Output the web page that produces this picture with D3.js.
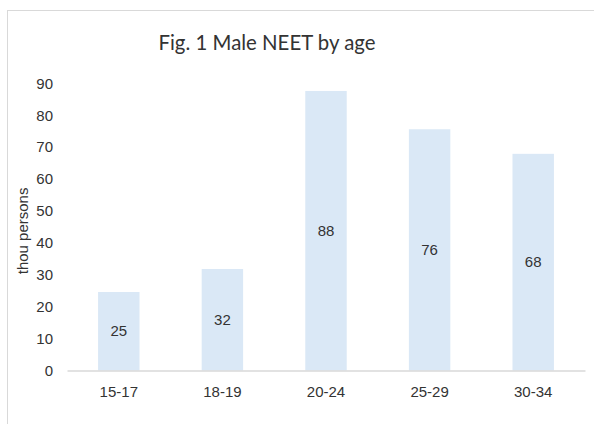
<!DOCTYPE html>
<html>
<head>
<meta charset="utf-8">
<script src="https://cdn.jsdelivr.net/npm/d3@7"></script>
<style>
  html, body { margin: 0; padding: 0; background: #fff; }
  svg { display: block; }
</style>
</head>
<body>
<svg id="chart" width="594" height="424"></svg>
<script>
const categories = ["15-17", "18-19", "20-24", "25-29", "30-34"];
const values = [24.6, 31.8, 87.6, 75.6, 67.9];
const yTicks = [0, 10, 20, 30, 40, 50, 60, 70, 80, 90];
const titleText = "Fig. 1 Male NEET by age";
const yTitle = "thou persons";

const svg = d3.select("#chart");
const textColor = "#333333";

// chart border
svg.append("rect")
  .attr("x", 7.5).attr("y", 10.5)
  .attr("width", 620).attr("height", 440)
  .attr("fill", "#fff").attr("stroke", "#d9d9d9").attr("stroke-width", 1);

const x = d3.scaleBand().domain(categories).range([67, 585]).paddingInner(0.6).paddingOuter(0.3);
const y = d3.scaleLinear().domain([0, 90]).range([370.5, 83.3]);

// bars
svg.append("g").selectAll("rect").data(categories).join("rect")
  .attr("x", d => x(d))
  .attr("y", (d, i) => y(values[i]))
  .attr("width", x.bandwidth())
  .attr("height", (d, i) => y(0) - y(values[i]))
  .attr("fill", "#dae8f6");

// x axis
const xAxis = svg.append("g").attr("transform", `translate(0,${y(0)})`)
  .call(d3.axisBottom(x).tickSize(0).tickPadding(16));
xAxis.select(".domain").attr("stroke", "#d9d9d9").attr("stroke-width", 1.5);
xAxis.selectAll("text").attr("fill", textColor)
  .style("font-family", "'Liberation Sans', Arial, sans-serif").style("font-size", "15px");

// y axis
const yAxis = svg.append("g").attr("transform", `translate(53,0)`)
  .call(d3.axisLeft(y).tickValues(yTicks).tickSize(0).tickPadding(0));
yAxis.select(".domain").remove();
yAxis.selectAll("text").attr("fill", textColor)
  .style("font-family", "'Liberation Sans', Arial, sans-serif").style("font-size", "15px");

// data labels
svg.append("g").selectAll("text").data(categories).join("text")
  .attr("x", d => x(d) + x.bandwidth() / 2)
  .attr("y", (d, i) => (y(values[i]) + y(0)) / 2)
  .attr("dy", "0.35em")
  .attr("text-anchor", "middle")
  .attr("fill", textColor)
  .style("font-family", "'Liberation Sans', Arial, sans-serif").style("font-size", "15px")
  .text((d, i) => d3.format(".0f")(values[i]));

// title
svg.append("text")
  .attr("x", 267).attr("y", 50)
  .attr("text-anchor", "middle")
  .attr("fill", textColor)
  .attr("textLength", 217).attr("lengthAdjust", "spacingAndGlyphs")
  .style("font-family", "Lato, 'Open Sans', sans-serif").style("font-size", "22px")
  .text(titleText);

// y title
svg.append("text")
  .attr("transform", `translate(28,${(y(0) + y(90)) / 2 + 4}) rotate(-90)`)
  .attr("text-anchor", "middle")
  .attr("fill", textColor)
  .style("font-family", "'Liberation Sans', Arial, sans-serif").style("font-size", "15px")
  .text(yTitle);
</script>
</body>
</html>
